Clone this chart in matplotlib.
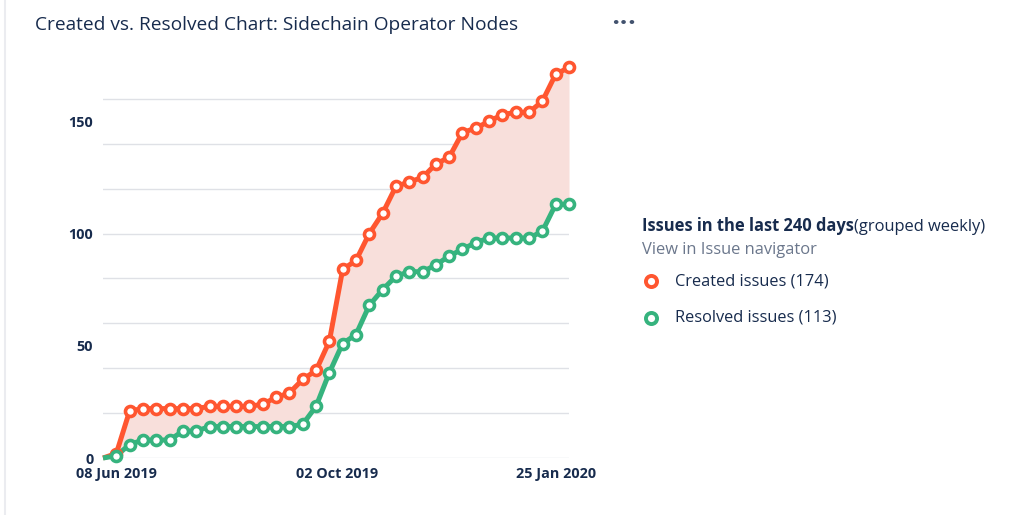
import pandas as pd
import matplotlib
matplotlib.use("Agg")
import matplotlib.pyplot as plt
from matplotlib.lines import Line2D

plt.rcParams['font.family'] = ['Open Sans', 'DejaVu Sans']

# weekly cumulative counts, first week starts 01 Jun 2019
weeks = pd.date_range("2019-06-01", periods=36, freq="7D")
created = [0, 2, 21, 22, 22, 22, 22, 22, 23, 23, 23, 23, 24, 27, 29, 35, 39, 52,
           84, 88, 100, 109, 121, 123, 125, 131, 134, 145, 147, 150, 153, 154,
           154, 159, 171, 174]
resolved = [0, 1, 6, 8, 8, 8, 12, 12, 14, 14, 14, 14, 14, 14, 14, 15, 23, 38,
            51, 55, 68, 75, 81, 83, 83, 86, 90, 93, 96, 98, 98, 98, 98, 101,
            113, 113]
tick_dates = ["2019-06-08", "2019-10-02", "2020-01-25"]
tick_labels = ["08 Jun 2019", "02 Oct 2019", "25 Jan 2020"]
y_ticks = [0, 50, 100, 150]
grid_vals = [0, 20, 40, 60, 80, 100, 120, 140, 160]

red = "#FF5630"
green = "#36B37E"
navy = "#172B4D"

fig = plt.figure(figsize=(10.2, 5.15), dpi=100)
ax = fig.add_axes([103 / 1020, 57 / 515, 466 / 1020, 404 / 515])

ax.fill_between(weeks, resolved, created, color="#f8dfdb", lw=0, zorder=1)
for g in grid_vals:
    ax.axhline(g, color="#dfe1e6", lw=1, zorder=0)

for vals, col in [(created, red), (resolved, green)]:
    ax.plot(weeks, vals, color=col, lw=3.6, zorder=3, clip_on=False,
            solid_capstyle="butt")
    ax.plot(weeks[1:], vals[1:], ls="none", marker="o", ms=7.2, mew=2.6,
            mfc="white", mec=col, zorder=4, clip_on=False)

ax.set_xlim(weeks[0], weeks[-1])
ax.set_ylim(0, 180)
ax.set_yticks(y_ticks)
ax.set_yticklabels([str(v) for v in y_ticks], fontsize=10.4, fontweight="bold",
                   color=navy)
ax.set_xticks(pd.to_datetime(tick_dates))
ax.set_xticklabels(tick_labels, fontsize=10.4, fontweight="bold", color=navy)
ax.tick_params(axis="both", length=0)
ax.tick_params(axis="y", pad=7)
ax.tick_params(axis="x", pad=6.5)
for s in ax.spines.values():
    s.set_visible(False)

# title and header
fig.text(35 / 1020, 1 - 25 / 515, "Created vs. Resolved Chart: Sidechain Operator Nodes",
         fontsize=13.8, color=navy, va="center", ha="left")
fig.text(624 / 1020, 1 - 23 / 515, "\u2022\u2022\u2022", fontsize=9.5, color="#42526E",
         va="center", ha="center", family="DejaVu Sans", fontweight="bold")
fig.add_artist(Line2D([5 / 1020, 5 / 1020], [0, 1], color="#ebecf0", lw=1.5))

# legend block
t1 = fig.text(642 / 1020, 1 - 235 / 515, "Issues in the last 240 days", fontsize=11.9,
              fontweight="bold", color=navy, va="bottom", ha="left")
ax.annotate("(grouped weekly)", xy=(1, 0), xycoords=t1, fontsize=11.9, color=navy,
            va="bottom", ha="left", annotation_clip=False)
fig.text(642 / 1020, 1 - 250 / 515, "View in Issue navigator", fontsize=11.9,
         color="#6B778C", va="center", ha="left")

legend_items = [("Created issues (174)", red, 281), ("Resolved issues (113)", green, 318)]
for label, col, ypx in legend_items:
    fig.add_artist(Line2D([651 / 1020], [1 - ypx / 515], ls="none", marker="o",
                          ms=8, mew=2.8, mfc="white", mec=col))
    fig.text(675 / 1020, 1 - ypx / 515, label, fontsize=11.8, color=navy,
             va="center", ha="left")

fig.savefig("out.png", dpi=100, facecolor="white")
